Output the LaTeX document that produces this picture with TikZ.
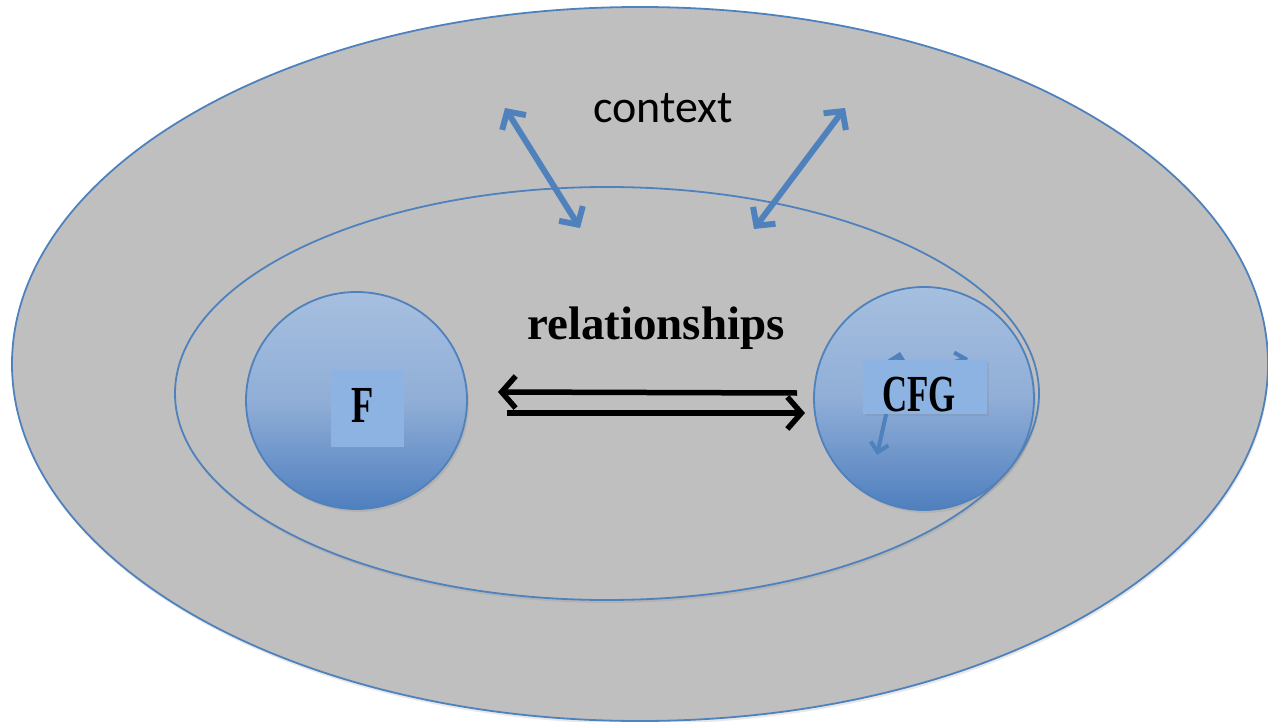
\documentclass[tikz,border=0pt]{standalone}
\usepackage{fontspec}
\usepackage{graphicx}
\newfontfamily\ctxfont{Carlito}
\newfontfamily\serifb{Liberation Serif}
\usetikzlibrary{arrows.meta,shadows,shapes.geometric}
\definecolor{ebord}{HTML}{4F81BD}
\definecolor{egray}{HTML}{BFBFBF}
\definecolor{ctop}{HTML}{A6BFDF}
\definecolor{cmid}{HTML}{90AED7}
\definecolor{cbot}{HTML}{4F7FBE}
\definecolor{lbl}{HTML}{8DB3E2}
\begin{document}
\begin{tikzpicture}[x=1pt,y=-1pt,
  region/.style={ellipse, inner sep=0pt, draw=ebord, line width=1.8pt, fill=egray,
    drop shadow={opacity=0.18, shadow xshift=1pt, shadow yshift=-3pt}},
  ball/.style={ellipse, inner sep=0pt, draw=ebord, line width=1.8pt,
    top color=ctop, bottom color=cbot, middle color=cmid,
    drop shadow={opacity=0.18, shadow xshift=2pt, shadow yshift=-3pt}},
  lblbox/.style={fill=lbl, inner sep=0pt},
  blarrow/.style={draw=ebord, line width=6pt,
    {Straight Barb[length=13pt,width=28pt]}-{Straight Barb[length=13pt,width=28pt]}},
  smallarrow/.style={draw=ebord, line width=4pt,
    {Straight Barb[length=9pt,width=18pt]}-{Straight Barb[length=9pt,width=18pt]}},
  bkarrow/.style={draw=black, line width=5.5pt, -{Straight Barb[length=14pt,width=32pt]}},
  ctxtext/.style={anchor=base, inner sep=0pt, font=\ctxfont\fontsize{46}{46}\selectfont},
  reltext/.style={anchor=base, inner sep=0pt, font=\serifb\bfseries\fontsize{47}{47}\selectfont},
  lbltext/.style={anchor=base, inner sep=0pt, font=\serifb\bfseries\fontsize{52}{52}\selectfont}
]
\useasboundingbox (0,0) rectangle (1268,722);
% regions
\node (outer) [region, minimum width=1256pt, minimum height=714pt] at (640,364) {};
\node (inner) [region, minimum width=864pt, minimum height=413pt] at (607,393.5) {};
% context arrows
\coordinate (la1) at (505,108);
\coordinate (la2) at (580,228);
\coordinate (ra1) at (845,108);
\coordinate (ra2) at (754,229);
\draw[blarrow] (la1) -- (la2);
\draw[blarrow] (ra1) -- (ra2);
% circles
\node (F) [ball, minimum width=221pt, minimum height=217pt] at (356.5,400.5) {};
\node (CFG) [ball, minimum width=220pt, minimum height=223pt] at (924,398.5) {};
% small arrows inside CFG
\coordinate (sa1) at (900,352);
\coordinate (sa2) at (877,455);
\coordinate (sb1) at (940,366);
\coordinate (sb2) at (968,358);
\draw[smallarrow] (sa1) -- (sa2);
\draw[draw=ebord, line width=4pt, -{Straight Barb[length=9pt,width=18pt]}] (sb1) -- (sb2);
% label boxes
\node (Fbox) [lblbox, minimum width=73pt, minimum height=77pt] at (367.5,408.5) {};
\node (CFGbox) [lblbox, minimum width=124pt, minimum height=54pt,
  drop shadow={opacity=0.2, shadow xshift=2pt, shadow yshift=-2pt}] at (925,387) {};
% texts
\node (ctx) [ctxtext] at (663,123) {context};
\node (rel) [reltext] at (656,339) {relationships};
\node (Ft) [lbltext] at (363,422) {\scalebox{0.7}[1]{F}};
\node (CFGt) [lbltext] at (919,411) {\scalebox{0.67}[1]{CFG}};
% relationship arrows
\coordinate (t1) at (797,393);
\coordinate (t2) at (498,392);
\coordinate (b1) at (507,413);
\coordinate (b2) at (805,413);
\draw[bkarrow] (t1) -- (t2);
\draw[bkarrow] (b1) -- (b2);
\end{tikzpicture}
\end{document}
